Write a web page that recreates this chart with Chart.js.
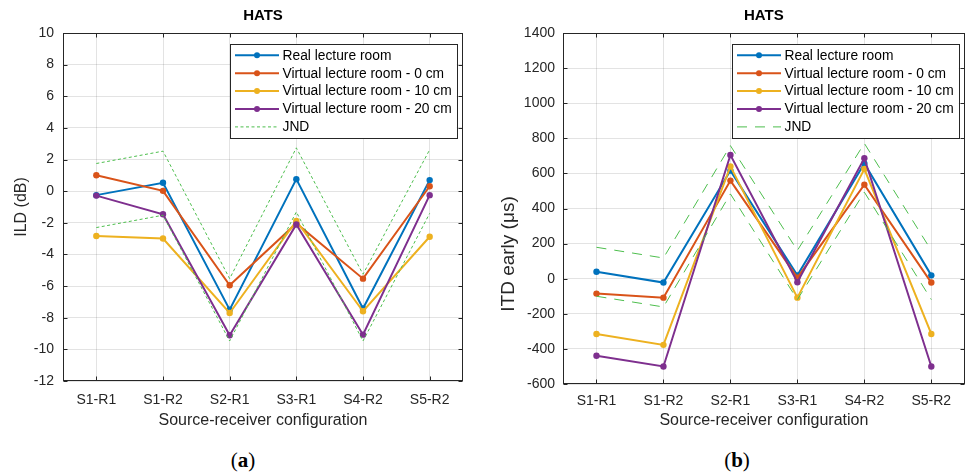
<!DOCTYPE html>
<html>
<head>
<meta charset="utf-8">
<script src="https://cdn.jsdelivr.net/npm/chart.js@4.4.1/dist/chart.umd.min.js"></script>
<style>
  html, body { margin: 0; padding: 0; background: #fff; }
  body { width: 968px; height: 473px; position: relative; overflow: hidden; }
  .wrap { position: absolute; top: 0; height: 440px; }
  #w1 { left: 0; width: 490px; }
  #w2 { left: 490px; width: 478px; }
  .cap { position: absolute; top: 448px; font-family: "Liberation Serif", "DejaVu Serif", serif; font-size: 21px; color: #000; transform: translateX(-50%); }
</style>
</head>
<body>
<div class="wrap" id="w1"><canvas id="c1"></canvas></div>
<div class="wrap" id="w2"><canvas id="c2"></canvas></div>
<div class="cap" style="left:243px">(<b>a</b>)</div>
<div class="cap" style="left:737px">(<b>b</b>)</div>
<script>
// ---------- data ----------
const categories = ['S1-R1', 'S1-R2', 'S2-R1', 'S3-R1', 'S4-R2', 'S5-R2'];
const seriesNames = ['Real lecture room', 'Virtual lecture room - 0 cm', 'Virtual lecture room - 10 cm', 'Virtual lecture room - 20 cm', 'JND'];

// ILD (dB)
const ildReal   = [-0.25, 0.53, -7.49, 0.76, -7.42, 0.70];
const ild0cm    = [1.01, 0.02, -5.95, -2.04, -5.53, 0.31];
const ild10cm   = [-2.83, -2.99, -7.70, -1.88, -7.59, -2.88];
const ild20cm   = [-0.28, -1.46, -9.11, -2.11, -9.07, -0.25];
const ildJndUp  = [1.75, 2.53, -5.53, 2.74, -5.25, 2.62];
const ildJndLow = [-2.30, -1.52, -9.47, -1.31, -9.47, -1.40];

// ITD early (µs)
const itdReal   = [40, -22, 616, 19, 657, 19];
const itd0cm    = [-85, -108, 559, 6, 536, -22];
const itd10cm   = [-315, -377, 640, -108, 625, -315];
const itd20cm   = [-439, -500, 705, -20, 686, -500];
const itdJndUp  = [179, 118, 758, 161, 771, 161];
const itdJndLow = [-100, -161, 483, -119, 493, -119];

// ---------- styling ----------
const colors = ['#0072BD', '#D95319', '#EDB120', '#7E2F8E', '#4DBE4D'];
const axisColor = '#262626';
const gridColor = 'rgba(38,38,38,0.13)';
const FONT = '"Liberation Sans", Arial, Helvetica, sans-serif';
Chart.defaults.font.family = FONT;
Chart.defaults.color = axisColor;

function series(label, data, ci, order) {
  return { label, data, borderColor: colors[ci], backgroundColor: colors[ci],
    pointBackgroundColor: colors[ci], pointBorderColor: colors[ci],
    borderWidth: 2, pointRadius: 3.2, pointBorderWidth: 0, pointHoverRadius: 3.2,
    tension: 0, order, _legend: true };
}
function jnd(data, dash, showInLegend) {
  return { label: 'JND', data, borderColor: colors[4], backgroundColor: colors[4],
    borderWidth: 1, borderDash: dash, pointRadius: 0, pointHoverRadius: 0,
    tension: 0, order: 0, _legend: showInLegend };
}

const matlabPlugin = {
  id: 'matlabBox',
  afterDraw(chart, args, opts) {
    const ctx = chart.ctx, ca = chart.chartArea;
    const xs = chart.scales.x, ys = chart.scales.y;
    ctx.save();
    // y-axis label (MATLAB places it at a given height)
    const yt = opts.yTitle;
    ctx.fillStyle = axisColor;
    ctx.font = yt.size + 'px ' + FONT;
    ctx.textAlign = 'center';
    ctx.textBaseline = 'middle';
    ctx.translate(yt.x, yt.y);
    ctx.rotate(-Math.PI / 2);
    ctx.fillText(yt.text, 0, 0);
    ctx.setTransform(chart.currentDevicePixelRatio, 0, 0, chart.currentDevicePixelRatio, 0, 0);

    ctx.strokeStyle = axisColor;
    ctx.lineWidth = 1;
    ctx.setLineDash([]);
    const L = Math.round(ca.left) + 0.5, R = Math.round(ca.right) - 0.5;
    const T = Math.round(ca.top) + 0.5, B = Math.round(ca.bottom) - 0.5;
    ctx.strokeRect(L, T, R - L, B - T);
    const tl = 4;
    ctx.beginPath();
    xs.ticks.forEach((t, i) => {
      const x = Math.round(xs.getPixelForTick(i)) + 0.5;
      ctx.moveTo(x, B); ctx.lineTo(x, B - tl);
      ctx.moveTo(x, T); ctx.lineTo(x, T + tl);
    });
    ys.ticks.forEach((t, i) => {
      const y = Math.round(ys.getPixelForTick(i)) + 0.5;
      ctx.moveTo(L, y); ctx.lineTo(L + tl, y);
      ctx.moveTo(R, y); ctx.lineTo(R - tl, y);
    });
    ctx.stroke();

    // legend box (MATLAB style)
    const lg = opts;
    const items = chart.data.datasets.filter(d => d._legend);
    ctx.font = lg.fontSize + 'px ' + FONT;
    let maxW = 0;
    items.forEach(d => { maxW = Math.max(maxW, ctx.measureText(d.label).width); });
    const bx = lg.x, by = lg.y;
    const bw = lg.textOffset + maxW + 5;
    const bh = lg.rowFirst * 2 + lg.rowGap * (items.length - 1);
    ctx.fillStyle = '#fff';
    ctx.fillRect(bx, by, bw, bh);
    ctx.strokeStyle = axisColor;
    ctx.strokeRect(Math.round(bx) + 0.5, Math.round(by) + 0.5, Math.round(bw), Math.round(bh));
    items.forEach((d, i) => {
      const cy = by + lg.rowFirst + i * lg.rowGap;
      ctx.strokeStyle = d.borderColor;
      ctx.lineWidth = d.borderWidth;
      ctx.setLineDash(d.borderDash || []);
      ctx.beginPath();
      ctx.moveTo(bx + 5, cy); ctx.lineTo(bx + 5 + lg.sampleLen, cy);
      ctx.stroke();
      ctx.setLineDash([]);
      if (d.pointRadius > 0) {
        ctx.fillStyle = d.borderColor;
        ctx.beginPath();
        ctx.arc(bx + 5 + lg.sampleLen / 2, cy, 3, 0, Math.PI * 2);
        ctx.fill();
      }
      ctx.fillStyle = '#000';
      ctx.textBaseline = 'middle';
      ctx.textAlign = 'left';
      ctx.fillText(d.label, bx + lg.textOffset, cy + 0.5);
    });
    ctx.restore();
  }
};

function makeChart(id, cfg) {
  return new Chart(document.getElementById(id), {
    type: 'line',
    data: {
      labels: categories,
      datasets: [
        series(seriesNames[0], cfg.d[0], 0, 4),
        series(seriesNames[1], cfg.d[1], 1, 3),
        series(seriesNames[2], cfg.d[2], 2, 2),
        series(seriesNames[3], cfg.d[3], 3, 1),
        jnd(cfg.d[4], cfg.dash, true),
        jnd(cfg.d[5], cfg.dash, false)
      ]
    },
    options: {
      responsive: true, maintainAspectRatio: false, animation: false,
      layout: { padding: cfg.padding },
      plugins: {
        legend: { display: false },
        tooltip: { enabled: false },
        title: { display: true, text: 'HATS', fullSize: false, color: '#000',
          font: { size: 15, weight: 'bold', family: FONT, lineHeight: 1.2 },
          padding: { top: 7, bottom: 8 } },
        matlabBox: cfg.legend
      },
      scales: {
        x: {
          type: 'category', offset: true,
          grid: { offset: false, color: gridColor, drawTicks: false },
          border: { display: false },
          ticks: { font: { size: 14 }, padding: cfg.xPad, maxRotation: 0, autoSkip: false, color: axisColor },
          title: { display: true, text: 'Source-receiver configuration', color: axisColor,
            font: { size: 16, lineHeight: 1.2 }, padding: { top: 0, bottom: 10 } },
          afterFit: s => { s.height = cfg.xH; }
        },
        y: {
          min: cfg.min, max: cfg.max,
          grid: { color: gridColor, drawTicks: false },
          border: { display: false },
          ticks: { stepSize: cfg.step, font: { size: 14 }, padding: cfg.yPad, color: axisColor,
            callback: v => String(v) },
          title: { display: false, text: cfg.legend.yTitle.text },
          afterFit: s => { s.width = cfg.yW; }
        }
      }
    },
    plugins: [matlabPlugin]
  });
}

makeChart('c1', {
  d: [ildReal, ild0cm, ild10cm, ild20cm, ildJndUp, ildJndLow],
  dash: [3, 2.5], min: -12, max: 10, step: 2,
  padding: { left: 0, right: 27, top: 0, bottom: 0 },
  yW: 63, xH: 59, xPad: 10.6, yPad: 9,
  legend: { x: 230, y: 44, fontSize: 13.8, rowFirst: 11.3, rowGap: 17.9, sampleLen: 44, textOffset: 52.5,
    yTitle: { text: 'ILD (dB)', size: 16, x: 22, y: 207 } }
});
makeChart('c2', {
  d: [itdReal, itd0cm, itd10cm, itd20cm, itdJndUp, itdJndLow],
  dash: [10, 8], min: -600, max: 1400, step: 200,
  padding: { left: 0, right: 1, top: 0, bottom: 0 },
  yW: 73, xH: 56, xPad: 9, yPad: 8,
  legend: { x: 242, y: 44, fontSize: 13.8, rowFirst: 11.3, rowGap: 17.9, sampleLen: 44, textOffset: 52.5,
    yTitle: { text: 'ITD early (\u03BCs)', size: 19, x: 19, y: 254 } }
});
</script>
</body>
</html>
